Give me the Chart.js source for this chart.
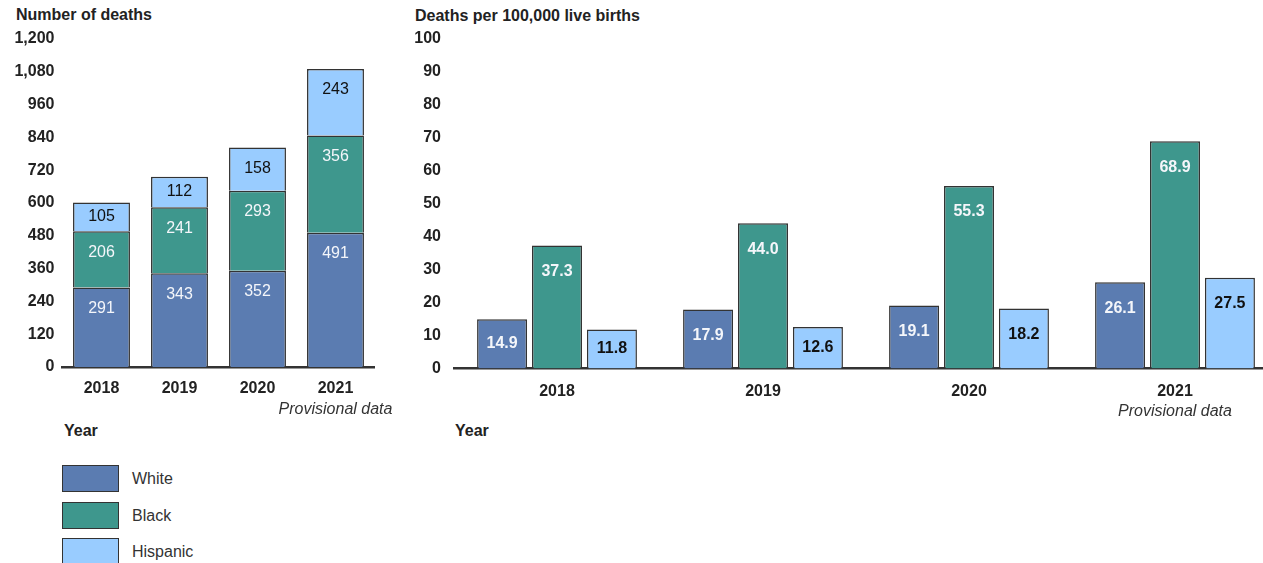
<!DOCTYPE html>
<html>
<head>
<meta charset="utf-8">
<script src="https://cdn.jsdelivr.net/npm/chart.js@4.4.1/dist/chart.umd.min.js"></script>
<style>
    html, body { margin: 0; padding: 0; background: #fff; overflow: hidden; width: 1263px; height: 563px; }
    body { position: relative; font-family: 'Liberation Sans', Arial, sans-serif; color: #222; }
    .abs { position: absolute; white-space: nowrap; }
    .bold { font-weight: bold; font-size: 16px; line-height: 18px; }
    .legend-item { position: absolute; left: 62px; height: 28px; }
    .legend-box { position: absolute; left: 0; top: 0; width: 55px; height: 25px; border: 1.5px solid #333; }
    .legend-text { position: absolute; left: 70px; top: 5px; font-size: 16px; line-height: 18px; color: #333; }
</style>
</head>
<body>
<div class="abs bold" style="left:16px; top:6px;">Number of deaths</div>
<div class="abs bold" style="left:415px; top:7px;">Deaths per 100,000 live births</div>
<div class="abs bold" style="left:64px; top:422px;">Year</div>
<div class="abs bold" style="left:455px; top:422px;">Year</div>

<canvas id="chartDeaths" class="abs" style="left:0; top:0;" width="400" height="445"></canvas>
<canvas id="chartRate" class="abs" style="left:400px; top:0;" width="900" height="445"></canvas>

<div id="legend"></div>

<script>
// datos
const years = ['2018', '2019', '2020', '2021'];
const groups = ['White', 'Black', 'Hispanic'];

const deathsWhite    = [291, 343, 352, 491];
const deathsBlack    = [206, 241, 293, 356];
const deathsHispanic = [105, 112, 158, 243];

const rateWhite    = [14.9, 17.9, 19.1, 26.1];
const rateBlack    = [37.3, 44.0, 55.3, 68.9];
const rateHispanic = [11.8, 12.6, 18.2, 27.5];

const deathTicks = [0, 120, 240, 360, 480, 600, 720, 840, 960, 1080, 1200];
const rateTicks  = [0, 10, 20, 30, 40, 50, 60, 70, 80, 90, 100];

const colors     = ['#5b7cb1', '#3e978d', '#99ccff'];
const textColors = ['#f4f6fa', '#f4f6fa', '#111'];
const provisionalNote = 'Provisional data';

const FONT = "'Liberation Sans', Arial, sans-serif";

// leyenda
const legend = document.getElementById('legend');
groups.forEach((g, i) => {
    const item = document.createElement('div');
    item.className = 'legend-item';
    item.style.top = (465 + i * 36.5) + 'px';
    item.innerHTML = `<div class="legend-box" style="background:${colors[i]}"></div><div class="legend-text">${g}</div>`;
    legend.appendChild(item);
});

// etiquetas dentro de las barras
function barLabels(bold, maxOffset, fmt) {
    return {
        id: 'barLabels',
        afterDatasetsDraw(chart) {
            const ctx = chart.ctx;
            ctx.save();
            ctx.font = `${bold ? 'bold ' : ''}16px ${FONT}`;
            ctx.textAlign = 'center';
            ctx.textBaseline = 'middle';
            chart.data.datasets.forEach((ds, di) => {
                chart.getDatasetMeta(di).data.forEach((bar, i) => {
                    const top = Math.min(bar.y, bar.base);
                    const bottom = Math.max(bar.y, bar.base);
                    const y = Math.min(top + maxOffset, (top + bottom) / 2);
                    ctx.fillStyle = textColors[di];
                    ctx.fillText(fmt(ds.data[i]), bar.x, y);
                });
            });
            ctx.restore();
        }
    };
}

// nota "Provisional data" bajo 2021
const provisional = {
    id: 'provisional',
    afterDraw(chart) {
        const ctx = chart.ctx;
        const x = chart.scales.x.getPixelForValue(years.length - 1);
        ctx.save();
        ctx.font = `italic 16px ${FONT}`;
        ctx.fillStyle = '#333';
        ctx.textAlign = 'center';
        ctx.textBaseline = 'middle';
        ctx.fillText(provisionalNote, x, chart.chartArea.bottom + 43);
        ctx.restore();
    }
};

function baseScales(ticks, yWidth, xHeight, tickPad, fmt) {
    return {
        x: {
            z: 1,
            grid: { display: false, drawTicks: false },
            border: { display: true, color: '#333', width: 2.5 },
            ticks: { color: '#222', padding: tickPad, font: { family: FONT, size: 16, weight: 'bold' } },
            afterFit: s => { s.height = xHeight; }
        },
        y: {
            min: ticks[0],
            max: ticks[ticks.length - 1],
            afterBuildTicks: s => { s.ticks = ticks.map(v => ({ value: v })); },
            grid: { display: false, drawTicks: false },
            border: { display: false },
            ticks: {
                color: '#222',
                padding: yWidth === 62.5 ? 8 : 13,
                font: { family: FONT, size: 16, weight: 'bold' },
                callback: fmt
            },
            afterFit: s => { s.width = yWidth; }
        }
    };
}

const deathSeries = [deathsWhite, deathsBlack, deathsHispanic];
new Chart(document.getElementById('chartDeaths'), {
    type: 'bar',
    data: {
        labels: years,
        datasets: deathSeries.map((d, i) => ({
            label: groups[i],
            data: d,
            backgroundColor: colors[i],
            borderColor: '#333',
            borderWidth: 1.5,
            barPercentage: 0.73,
            categoryPercentage: 1
        }))
    },
    options: {
        responsive: false,
        animation: false,
        devicePixelRatio: 1,
        layout: { padding: { left: 0, right: 25.5, top: 39, bottom: 0 } },
        plugins: { legend: { display: false }, tooltip: { enabled: false } },
        scales: (() => {
            const s = baseScales(deathTicks, 62.5, 78, 12, v => v.toLocaleString('en-US'));
            s.x.stacked = true;
            s.y.stacked = true;
            return s;
        })()
    },
    plugins: [barLabels(false, 21, v => String(v)), provisional]
});

const rateSeries = [rateWhite, rateBlack, rateHispanic];
new Chart(document.getElementById('chartRate'), {
    type: 'bar',
    data: {
        labels: years,
        datasets: rateSeries.map((d, i) => ({
            label: groups[i],
            data: d,
            backgroundColor: colors[i],
            borderColor: '#333',
            borderWidth: 1.5,
            barPercentage: 0.91,
            categoryPercentage: 0.8
        }))
    },
    options: {
        responsive: false,
        animation: false,
        devicePixelRatio: 1,
        layout: { padding: { left: 0, right: 22, top: 38.5, bottom: 0 } },
        plugins: { legend: { display: false }, tooltip: { enabled: false } },
        scales: baseScales(rateTicks, 54, 76.5, 13, v => String(v))
    },
    plugins: [barLabels(true, 26, v => v.toFixed(1)), provisional]
});
</script>
</body>
</html>
